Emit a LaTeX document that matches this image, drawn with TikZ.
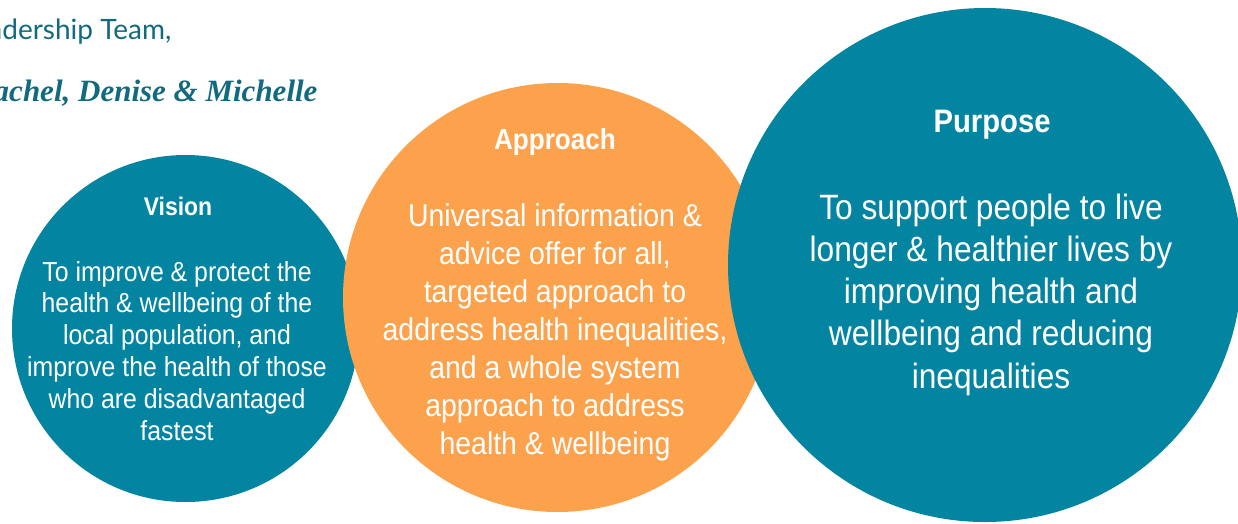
\documentclass[tikz,border=0pt]{standalone}
\usepackage{fontspec}
\setmainfont{Liberation Sans}[FakeStretch=0.9]
\newfontfamily\headerfont{Lato}
\newfontfamily\namesfont{Liberation Serif}
\definecolor{circteal}{HTML}{0385A2}
\definecolor{circorange}{HTML}{FDA24C}
\definecolor{headteal}{HTML}{136A7E}
\tikzstyle{disc}=[circle,inner sep=0pt,draw=none]
\tikzstyle{heading}=[text=white,anchor=base]
% multi-line blurbs sit on the baseline of their last line
\tikzstyle{blurb}=[text=white,align=center,anchor=base]
\tikzstyle{header}=[text=headteal,anchor=base east]

\begin{document}
\begin{tikzpicture}[x=1pt,y=-1pt]
  \useasboundingbox (0,0) rectangle (1238,523);
  % circles, back to front
  \node[disc,fill=circteal,minimum size=347pt] (vision) at (185.5,328.5) {};
  \node[disc,fill=circorange,minimum size=429pt] (approach) at (557.5,297.5) {};
  \node[disc,fill=circteal,minimum size=514pt] (purpose) at (985,265) {};
  % team line and names
  \node[header,font=\headerfont\fontsize{28}{34}\selectfont] (team) at (175,39) {Leadership Team,};
  \node[header,font=\namesfont\bfseries\itshape\fontsize{31}{36}\selectfont] (names) at (321,101) {Rachel, Denise \& Michelle};
  % vision
  \node[heading,font=\bfseries\fontsize{25.5}{30}\selectfont] (visionTitle) at (178,215) {Vision};
  \node[blurb,font=\fontsize{27.6}{31.8}\selectfont] (visionText) at (177,440)
    {To improve \& protect the\\health \& wellbeing of the\\local population, and\\improve the health of those\\who are disadvantaged\\fastest};
  % approach
  \node[heading,font=\bfseries\fontsize{29}{34}\selectfont] (approachTitle) at (555,149) {Approach};
  \node[blurb,font=\fontsize{31.6}{38}\selectfont] (approachText) at (555,454)
    {Universal information \&\\advice offer for all,\\targeted approach to\\address health inequalities,\\and a whole system\\approach to address\\health \& wellbeing};
  % purpose
  \node[heading,font=\bfseries\fontsize{32.5}{38}\selectfont] (purposeTitle) at (992,132) {Purpose};
  \node[blurb,font=\fontsize{35.2}{42.2}\selectfont] (purposeText) at (991,388)
    {To support people to live\\longer \& healthier lives by\\improving health and\\wellbeing and reducing\\inequalities};
\end{tikzpicture}
\end{document}
